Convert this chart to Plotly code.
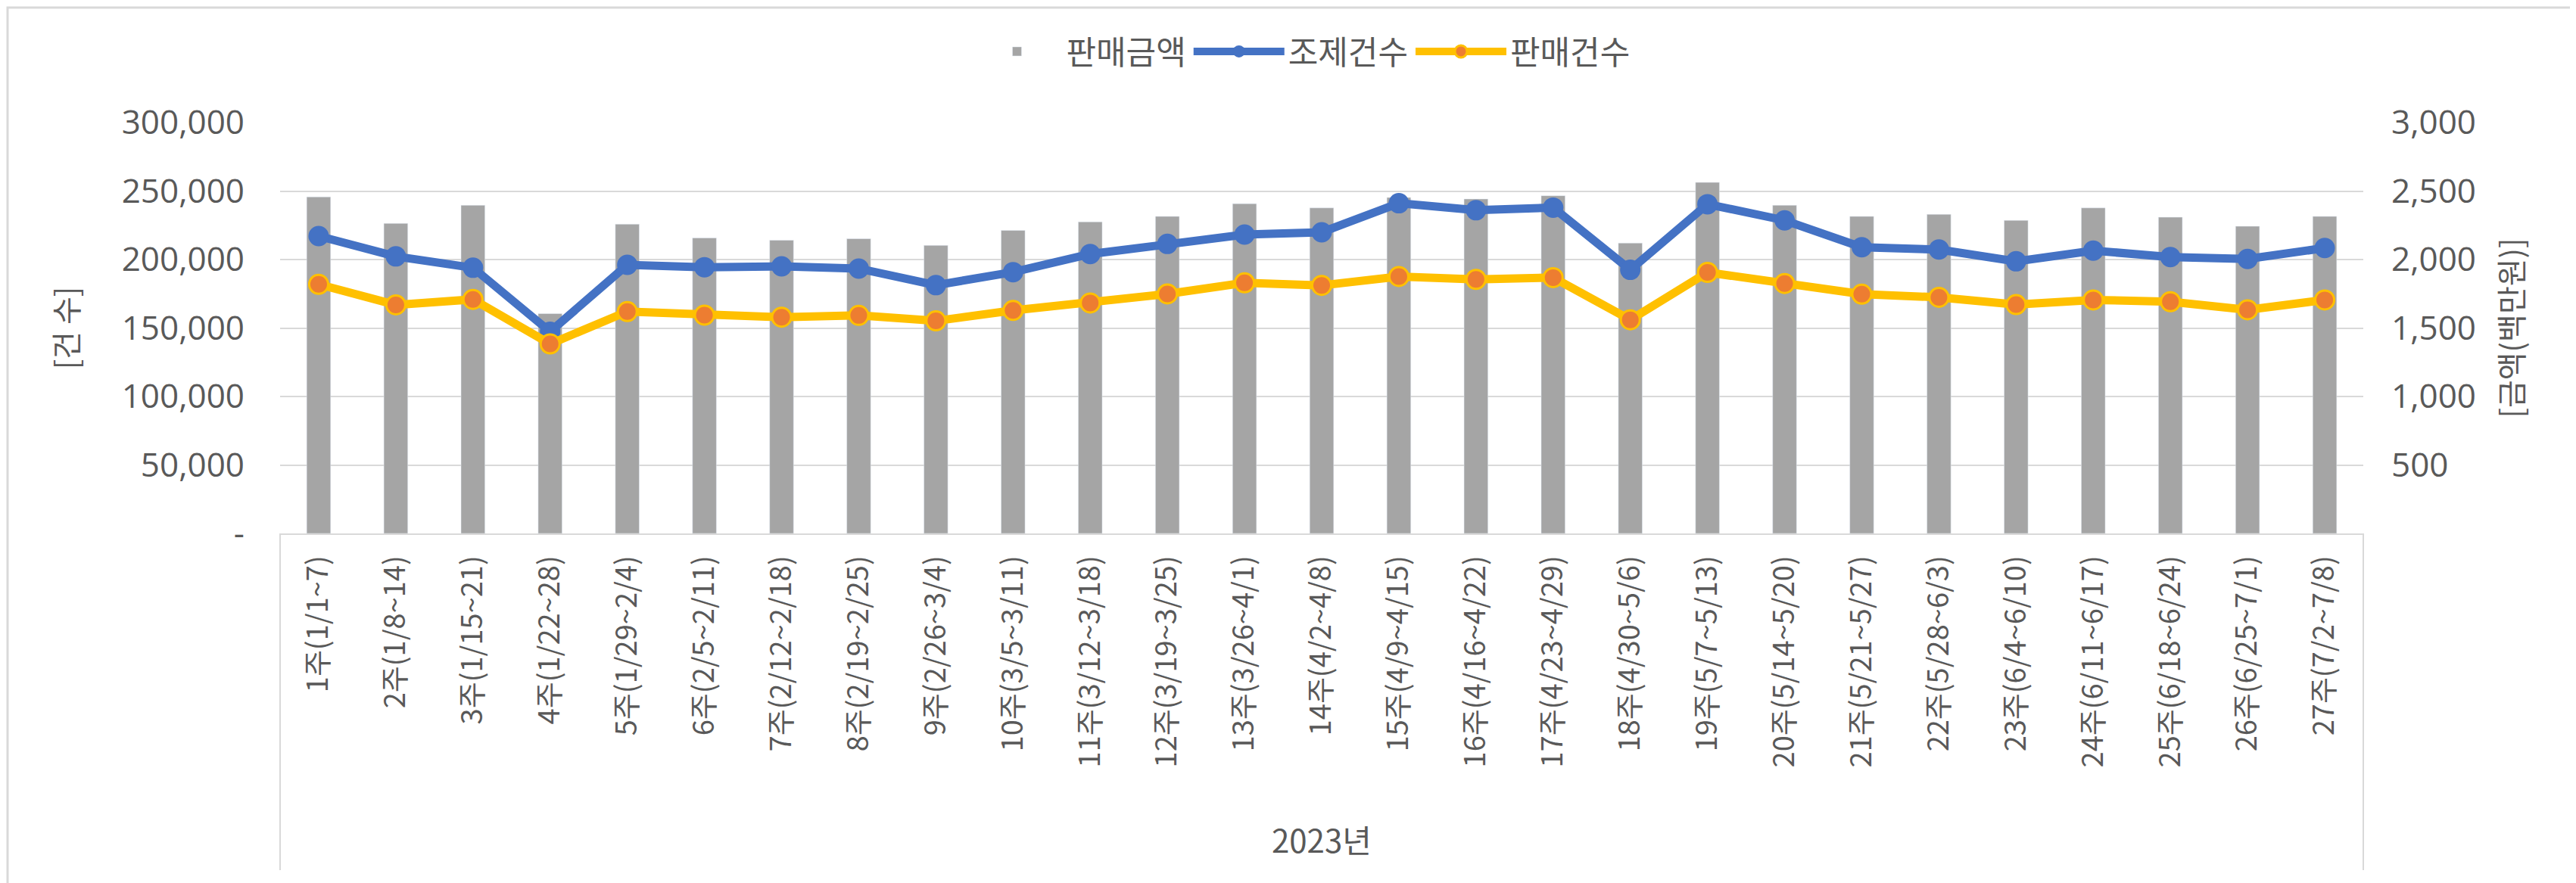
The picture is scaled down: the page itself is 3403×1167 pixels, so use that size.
import plotly.graph_objects as go

weeks = ["1주(1/1~7)", "2주(1/8~14)", "3주(1/15~21)", "4주(1/22~28)", "5주(1/29~2/4)",
         "6주(2/5~2/11)", "7주(2/12~2/18)", "8주(2/19~2/25)", "9주(2/26~3/4)", "10주(3/5~3/11)",
         "11주(3/12~3/18)", "12주(3/19~3/25)", "13주(3/26~4/1)", "14주(4/2~4/8)", "15주(4/9~4/15)",
         "16주(4/16~4/22)", "17주(4/23~4/29)", "18주(4/30~5/6)", "19주(5/7~5/13)", "20주(5/14~5/20)",
         "21주(5/21~5/27)", "22주(5/28~6/3)", "23주(6/4~6/10)", "24주(6/11~6/17)", "25주(6/18~6/24)",
         "26주(6/25~7/1)", "27주(7/2~7/8)"]

sales_amount = [2457, 2264, 2396, 1605, 2258, 2158, 2141, 2152, 2103, 2213,
                2275, 2315, 2408, 2377, 2453, 2442, 2466, 2120, 2563, 2396,
                2315, 2330, 2286, 2377, 2309, 2243, 2315]

dispense_count = [217100, 202300, 194000, 147300, 196100, 194400, 195000, 193400, 181300, 190800,
                  204000, 211400, 218200, 219900, 241100, 236000, 237900, 192500, 240400, 228600,
                  209000, 207300, 198700, 206500, 201800, 200400, 208400]

sales_count = [181900, 166900, 170900, 138400, 162000, 159400, 157900, 159200, 155200, 162800,
               168300, 174900, 183000, 181100, 187600, 185500, 186800, 156000, 190600, 182500,
               174700, 172400, 167100, 170500, 169200, 163300, 170500]

left_tickvals = [0, 50000, 100000, 150000, 200000, 250000, 300000]
left_ticktext = ["-", "50,000", "100,000", "150,000", "200,000", "250,000", "300,000"]
right_tickvals = [0, 500, 1000, 1500, 2000, 2500, 3000]
right_ticktext = ["", "500", "1,000", "1,500", "2,000", "2,500", "3,000"]

GREY = "#A5A5A5"
BLUE = "#4472C4"
YELLOW = "#FFC000"
ORANGE = "#ED7D31"
TXT = "#595959"
GRID = "#D9D9D9"
NUMFONT = "Open Sans, Noto Sans CJK KR, sans-serif"
KRFONT = "Noto Sans CJK KR, Open Sans, sans-serif"

fig = go.Figure()
fig.add_trace(go.Bar(x=weeks, y=sales_amount, name="판매금액", marker_color=GREY,
                     width=0.31, yaxis="y"))
fig.add_trace(go.Scatter(x=weeks, y=dispense_count, name="조제건수", mode="lines+markers",
                         line=dict(color=BLUE, width=11),
                         marker=dict(color=BLUE, size=27, line=dict(color=BLUE, width=0)),
                         yaxis="y2"))
fig.add_trace(go.Scatter(x=weeks, y=sales_count, name="판매건수", mode="lines+markers",
                         line=dict(color=YELLOW, width=11),
                         marker=dict(color=ORANGE, size=25, line=dict(color=YELLOW, width=3)),
                         yaxis="y2"))

W, H = 3403, 1167
L, R, T, B = 362, 3403 - 3114, 154, 1167 - 697
pw = W - L - R
ph = H - T - B

def px(x):
    return (x - L) / pw

def py(y):
    return (H - B - y) / ph

n = len(weeks)

fig.update_layout(
    width=W, height=H,
    margin=dict(l=L, r=R, t=T, b=B, autoexpand=False),
    paper_bgcolor="white", plot_bgcolor="white",
    showlegend=True,
    legend=dict(orientation="h", x=0.49, xanchor="center", y=py(60), yanchor="middle",
                font=dict(family=KRFONT, size=43, color=TXT), itemwidth=120,
                traceorder="normal", bgcolor="rgba(0,0,0,0)"),
    xaxis=dict(type="category", range=[-0.5, n - 0.5], tickangle=-90, showgrid=False,
               showline=True, linecolor=GRID, linewidth=2, ticks="",
               tickfont=dict(family=KRFONT, size=38, color=TXT),
               ticklabelstandoff=12, automargin=False),
    yaxis=dict(side="right", range=[0, 3000], tickvals=right_tickvals, ticktext=right_ticktext,
               showgrid=True, gridcolor=GRID, gridwidth=2, zeroline=False, showline=False,
               tickfont=dict(family=NUMFONT, size=44, color=TXT), ticklabelstandoff=36,
               title=dict(text="[금액(백만원)]", font=dict(family=KRFONT, size=40, color=TXT),
                          standoff=34),
               automargin=False),
    yaxis2=dict(side="left", overlaying="y", range=[0, 300000], tickvals=left_tickvals,
                ticktext=left_ticktext, showgrid=False, zeroline=False, showline=False,
                tickfont=dict(family=NUMFONT, size=44, color=TXT), ticklabelstandoff=46,
                title=dict(text="[건 수]", font=dict(family=KRFONT, size=40, color=TXT),
                           standoff=44),
                automargin=False),
    shapes=[
        dict(type="line", xref="paper", yref="paper", x0=0, x1=0, y0=0, y1=py(1142),
             line=dict(color=GRID, width=2)),
        dict(type="line", xref="paper", yref="paper", x0=1, x1=1, y0=0, y1=py(1142),
             line=dict(color=GRID, width=2)),
        dict(type="rect", xref="paper", yref="paper", x0=px(2), x1=px(3400), y0=py(1164), y1=py(2),
             line=dict(color=GRID, width=3), fillcolor="rgba(0,0,0,0)"),
    ],
    annotations=[
        dict(text="2023년", xref="paper", yref="paper", x=0.5, y=py(1100), xanchor="center",
             yanchor="middle", showarrow=False, font=dict(family=KRFONT, size=42, color=TXT)),
    ],
)

fig.write_html("out.html")
